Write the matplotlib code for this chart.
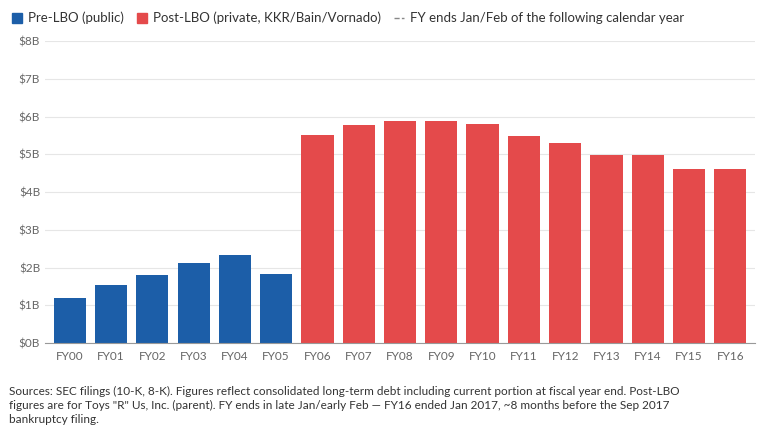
import matplotlib.pyplot as plt
from matplotlib.patches import Patch
from matplotlib.lines import Line2D

plt.rcParams['font.family'] = ['Lato', 'DejaVu Sans']

years = ['FY00', 'FY01', 'FY02', 'FY03', 'FY04', 'FY05', 'FY06', 'FY07', 'FY08',
         'FY09', 'FY10', 'FY11', 'FY12', 'FY13', 'FY14', 'FY15', 'FY16']
debt = [1.2, 1.55, 1.8, 2.12, 2.33, 1.83, 5.52, 5.77, 5.88, 5.88, 5.8, 5.48,
        5.31, 4.98, 4.98, 4.6, 4.6]
n_pre = 6

BLUE = '#1c5ea8'
RED = '#e44a4b'
colors = [BLUE] * n_pre + [RED] * (len(years) - n_pre)

fig = plt.figure(figsize=(7.76, 4.36), dpi=100)
ax = fig.add_axes([0.058, 0.213, 0.915, 0.693])
ax.bar(range(len(years)), debt, width=0.78, color=colors, zorder=2)
ax.set_xlim(-0.6, len(years) - 0.4)
ax.set_ylim(0, 8)
ax.set_yticks(range(9))
ax.set_yticklabels([f'${v}B' for v in range(9)])
ax.set_xticks(range(len(years)))
ax.set_xticklabels(years)
ax.grid(axis='y', color='#e6e6e6', lw=0.8, zorder=0)
for s in ['top', 'right', 'left']:
    ax.spines[s].set_visible(False)
ax.spines['bottom'].set_color('#999999')
ax.tick_params(length=0, labelsize=8.5, colors='#666666')
ax.tick_params(axis='x', pad=6)

handles = [Patch(color=BLUE), Patch(color=RED),
           Line2D([], [], color='#888888', ls='--', lw=1)]
labels = ['Pre-LBO (public)', 'Post-LBO (private, KKR/Bain/Vornado)',
          'FY ends Jan/Feb of the following calendar year']
fig.legend(handles, labels, loc='upper left', bbox_to_anchor=(0.0, 1.0), ncol=3,
           frameon=False, fontsize=9.5, handlelength=0.8, handleheight=0.8,
           handletextpad=0.4, columnspacing=1.0, labelcolor='#333333')

fig.text(0.012, 0.115,
         'Sources: SEC filings (10-K, 8-K). Figures reflect consolidated long-term debt including current portion at fiscal year end. Post-LBO\n'
         'figures are for Toys "R" Us, Inc. (parent). FY ends in late Jan/early Feb \u2014 FY16 ended Jan 2017, ~8 months before the Sep 2017\n'
         'bankruptcy filing.',
         fontsize=8.5, color='#333333', va='top', linespacing=1.35)

fig.savefig('out.png', dpi=100)
